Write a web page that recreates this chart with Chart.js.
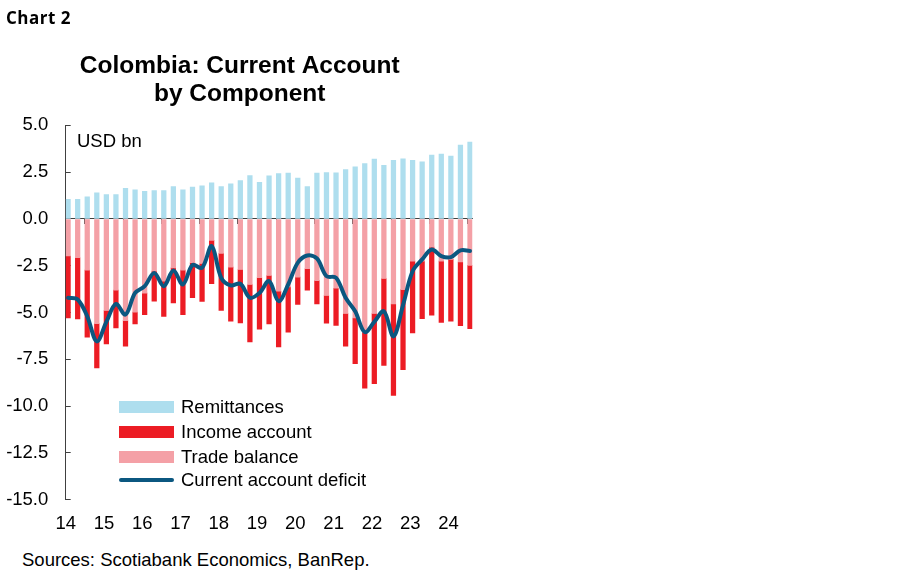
<!DOCTYPE html>
<html>
<head>
<meta charset="utf-8">
<title>Colombia: Current Account by Component</title>
<script src="https://cdn.jsdelivr.net/npm/chart.js@4.4.1/dist/chart.umd.min.js"></script>
<style>
    body { margin: 0; background: #fff; color: #000; font-family: "Liberation Sans", Arial, sans-serif; }
    #page { position: relative; width: 900px; height: 579px; overflow: hidden; }
    #chart-box { position: absolute; left: 0; top: 0; width: 482px; height: 548px; }
    .label { position: absolute; white-space: nowrap; line-height: 1; }
    #chart-no { left: 6px; top: 9px; font-family: "Open Sans", sans-serif; font-weight: bold; font-size: 17px; letter-spacing: 0.5px; }
    #unit { left: 77px; top: 132px; font-size: 18.5px; }
    #sources { left: 22px; top: 551px; font-size: 18.5px; }
    .legend-row { position: absolute; left: 119px; height: 24px; display: flex; align-items: center; font-size: 18.5px; white-space: nowrap; }
    .swatch { width: 55px; height: 12px; margin-right: 7px; }
    .swatch.line { height: 4px; border-radius: 2px; }
</style>
</head>
<body>
<div id="page">
    <div id="chart-box"><canvas id="caChart"></canvas></div>
    <div class="label" id="chart-no">Chart 2</div>
    <div class="label" id="unit">USD bn</div>
    <div id="legend"></div>
    <div class="label" id="sources">Sources: Scotiabank Economics, BanRep.</div>
</div>
<script>
// quarterly data, 2014Q1 - 2024Q3, USD bn
const quarters = [
    '14Q1', '14Q2', '14Q3', '14Q4', '15Q1', '15Q2', '15Q3', '15Q4',
    '16Q1', '16Q2', '16Q3', '16Q4', '17Q1', '17Q2', '17Q3', '17Q4',
    '18Q1', '18Q2', '18Q3', '18Q4', '19Q1', '19Q2', '19Q3', '19Q4',
    '20Q1', '20Q2', '20Q3', '20Q4', '21Q1', '21Q2', '21Q3', '21Q4',
    '22Q1', '22Q2', '22Q3', '22Q4', '23Q1', '23Q2', '23Q3', '23Q4',
    '24Q1', '24Q2', '24Q3'
];
const yearLabels = ['14', '15', '16', '17', '18', '19', '20', '21', '22', '23', '24'];
const yTicks = [5.0, 2.5, 0.0, -2.5, -5.0, -7.5, -10.0, -12.5, -15.0];

const remittances = [
    1.05, 1.05, 1.18, 1.39, 1.30, 1.30, 1.64, 1.55, 1.48, 1.52, 1.52, 1.73, 1.55, 1.70, 1.77,
    1.93, 1.73, 1.88, 2.05, 2.32, 1.95, 2.30, 2.43, 2.45, 2.18, 1.73, 2.45, 2.48, 2.46,
    2.64, 2.79, 2.96, 3.20, 2.86, 3.13, 3.21, 3.13, 3.05, 3.41, 3.46, 3.36, 3.95, 4.11
];
const incomeAccount = [
    -3.31, -3.27, -3.59, -2.37, -1.79, -2.02, -1.37, -0.63, -1.15, -1.60, -1.88, -1.87, -2.38, -1.87, -2.03,
    -2.32, -3.04, -2.89, -2.85, -3.07, -2.74, -2.59, -2.98, -2.41, -1.46, -1.14, -1.25, -1.48, -1.98,
    -1.75, -2.44, -3.00, -3.75, -4.64, -4.89, -4.28, -3.84, -3.07, -3.64, -3.27, -3.30, -3.40, -3.38
];
const tradeBalance = [
    -1.98, -2.07, -2.73, -5.59, -4.89, -3.80, -5.43, -4.98, -3.96, -2.79, -3.32, -2.61, -2.73, -2.34, -2.38,
    -1.14, -1.84, -2.57, -2.70, -3.50, -3.14, -3.02, -3.86, -3.63, -3.11, -2.66, -3.29, -4.09, -3.70,
    -5.05, -5.29, -6.04, -5.05, -3.18, -4.54, -3.77, -2.25, -2.25, -1.50, -2.25, -2.16, -2.30, -2.48
];
const currentAccount = [
    -4.21, -4.30, -5.20, -6.54, -5.50, -4.54, -5.11, -3.95, -3.59, -2.88, -3.59, -2.75, -3.50, -2.46, -2.61,
    -1.45, -3.14, -3.55, -3.46, -4.21, -3.95, -3.32, -4.39, -3.50, -2.34, -1.95, -2.11, -3.05, -3.14,
    -4.21, -4.93, -6.04, -5.50, -4.93, -6.27, -4.60, -2.79, -2.16, -1.63, -1.98, -2.04, -1.68, -1.71
];

const COLORS = {
    remittances: '#AEDEEE',
    income: '#EC1C24',
    trade: '#F4A0A6',
    line: '#0B5780',
    axis: '#404040'
};
const FONT = '"Liberation Sans", Arial, sans-serif';

// each quarter is one unit on the x axis; the bar sits a quarter of a slot in, like the Excel original
function quarterX(i) {
    return i + 0.25;
}

function toPoints(values) {
    return values.map((v, i) => ({ x: quarterX(i), y: v, q: quarters[i] }));
}

// one tick at the start of every year
function yearTicks(scale) {
    scale.ticks = yearLabels.map((label, k) => ({ value: k * 4 }));
}

function renderLegend() {
    const items = [
        { label: 'Remittances', color: COLORS.remittances, line: false },
        { label: 'Income account', color: COLORS.income, line: false },
        { label: 'Trade balance', color: COLORS.trade, line: false },
        { label: 'Current account deficit', color: COLORS.line, line: true }
    ];
    const rowsY = [395, 420, 445, 468];
    const legend = document.getElementById('legend');
    items.forEach((item, i) => {
        const row = document.createElement('div');
        row.className = 'legend-row';
        row.style.top = rowsY[i] + 'px';
        row.innerHTML = `<span class="swatch${item.line ? ' line' : ''}" style="background:${item.color}"></span>${item.label}`;
        legend.appendChild(row);
    });
}

function renderChart() {
    const ctx = document.getElementById('caChart').getContext('2d');
    const barCommon = { barThickness: 4.6, borderWidth: 0, order: 1 };
    new Chart(ctx, {
        type: 'bar',
        data: {
            datasets: [
                Object.assign({ label: 'Trade balance', data: toPoints(tradeBalance), backgroundColor: COLORS.trade }, barCommon),
                Object.assign({ label: 'Income account', data: toPoints(incomeAccount), backgroundColor: COLORS.income }, barCommon),
                Object.assign({ label: 'Remittances', data: toPoints(remittances), backgroundColor: COLORS.remittances }, barCommon),
                {
                    type: 'line',
                    label: 'Current account deficit',
                    data: toPoints(currentAccount),
                    stack: 'ca',
                    order: 0,
                    borderColor: COLORS.line,
                    borderWidth: 4,
                    borderCapStyle: 'round',
                    tension: 0.35,
                    pointRadius: 0,
                    fill: false
                }
            ]
        },
        options: {
            responsive: true,
            maintainAspectRatio: false,
            animation: false,
            layout: { padding: { left: 7, right: 9.6, top: 0, bottom: 0 } },
            plugins: {
                legend: { display: false },
                tooltip: { enabled: false },
                title: {
                    display: true,
                    text: ['Colombia: Current Account', 'by Component'],
                    color: '#000',
                    font: { family: FONT, size: 24.5, weight: 'bold', lineHeight: 1.15 },
                    padding: { top: 52, bottom: 17 }
                }
            },
            scales: {
                x: {
                    type: 'linear',
                    min: 0,
                    max: 42.5,
                    offset: false,
                    stacked: true,
                    afterBuildTicks: yearTicks,
                    grid: { display: false, drawTicks: false },
                    border: { display: false },
                    ticks: {
                        padding: 13,
                        color: '#000',
                        font: { family: FONT, size: 18.5 },
                        maxRotation: 0,
                        callback: v => yearLabels[Math.round(v / 4)]
                    }
                },
                xZero: {
                    type: 'linear',
                    position: { y: 0 },
                    min: 0,
                    max: 42.5,
                    offset: false,
                    afterBuildTicks: yearTicks,
                    ticks: { display: false },
                    grid: { drawOnChartArea: false, tickLength: 5, tickColor: COLORS.axis, tickWidth: 1 },
                    border: { color: COLORS.axis, width: 1 }
                },
                y: {
                    min: -15,
                    max: 5,
                    stacked: true,
                    afterBuildTicks: scale => { scale.ticks = yTicks.map(v => ({ value: v })); },
                    afterFit: scale => { scale.width = 58.7; },
                    grid: { drawOnChartArea: false, tickLength: -5, tickColor: COLORS.axis, tickWidth: 1 },
                    border: { color: COLORS.axis, width: 1 },
                    ticks: {
                        padding: 22.4,
                        color: '#000',
                        font: { family: FONT, size: 18.5 },
                        callback: v => v.toFixed(1)
                    }
                }
            }
        }
    });
}

renderChart();
renderLegend();
</script>
</body>
</html>
